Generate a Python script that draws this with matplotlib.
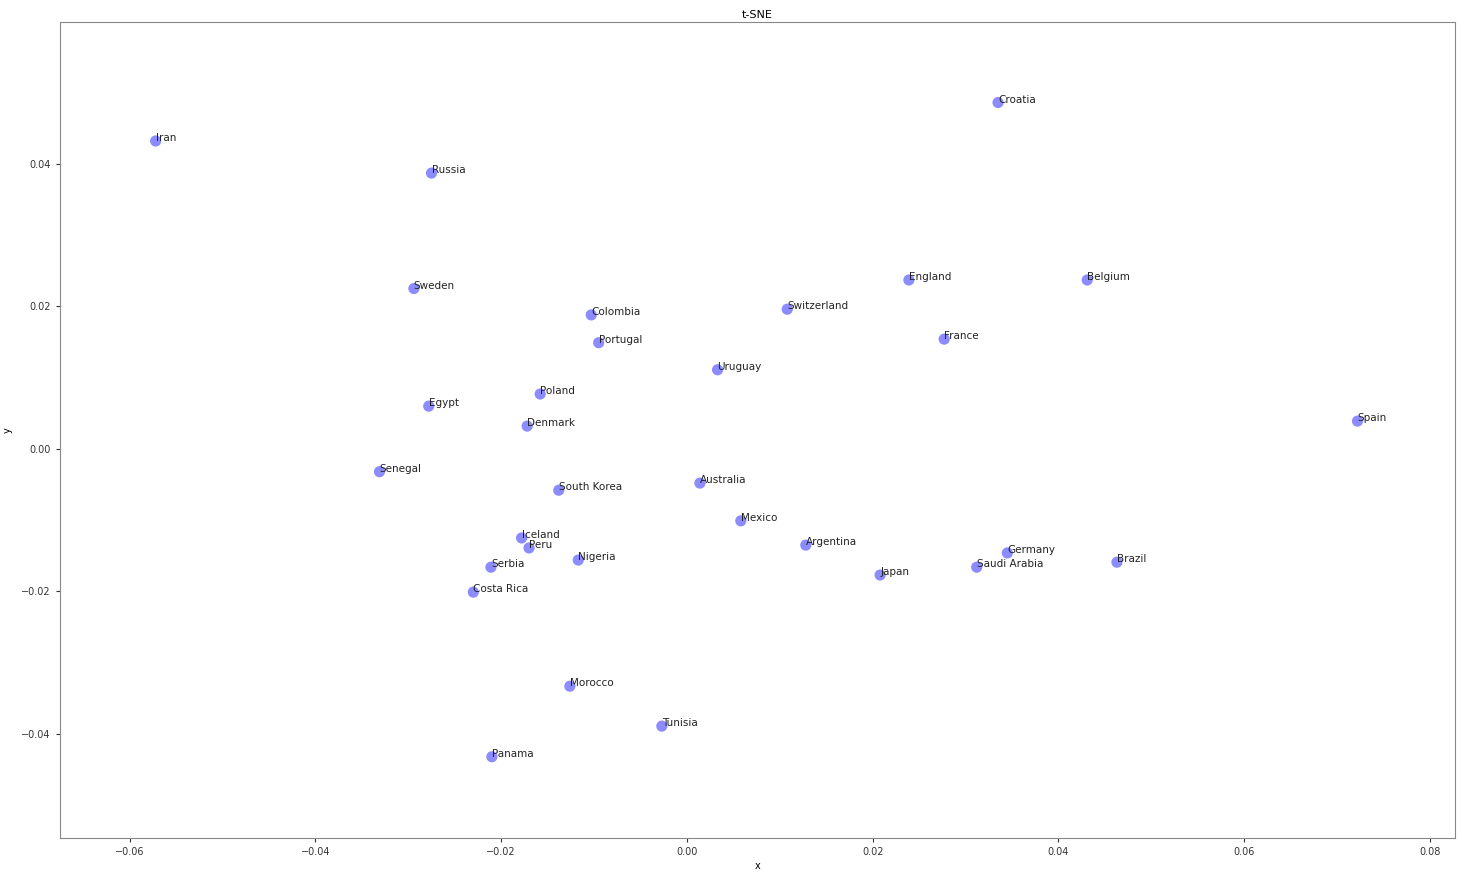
import matplotlib
matplotlib.use("Agg")
import matplotlib.pyplot as plt

# Coordenadas t-SNE por país
paises = ["Iran", "Russia", "Croatia", "Sweden", "England", "Belgium", "Colombia",
          "Switzerland", "Portugal", "France", "Uruguay", "Poland", "Egypt", "Denmark",
          "Spain", "Senegal", "South Korea", "Australia", "Mexico", "Iceland", "Peru",
          "Argentina", "Germany", "Nigeria", "Brazil", "Serbia", "Saudi Arabia", "Japan",
          "Costa Rica", "Morocco", "Tunisia", "Panama"]
x = [-0.0572, -0.0275, 0.0335, -0.0294, 0.0239, 0.0431, -0.0103,
     0.0108, -0.0095, 0.0277, 0.0033, -0.0158, -0.0278, -0.0172,
     0.0722, -0.0331, -0.0138, 0.0014, 0.0058, -0.0178, -0.0170,
     0.0128, 0.0345, -0.0117, 0.0463, -0.0211, 0.0312, 0.0208,
     -0.0230, -0.0126, -0.0027, -0.0210]
y = [0.0432, 0.0387, 0.0486, 0.0225, 0.0237, 0.0237, 0.0188,
     0.0196, 0.0149, 0.0154, 0.0111, 0.0077, 0.0060, 0.0032,
     0.0039, -0.0032, -0.0058, -0.0048, -0.0101, -0.0125, -0.0139,
     -0.0135, -0.0146, -0.0156, -0.0159, -0.0166, -0.0166, -0.0177,
     -0.0201, -0.0333, -0.0389, -0.0432]

fig = plt.figure(figsize=(14.6, 8.75), dpi=100)
ax = fig.add_axes([60 / 1460, 37 / 875, 1395 / 1460, 816 / 875])

ax.scatter(x, y, s=65, color="blue", alpha=0.45, edgecolors="none")
for nombre, xi, yi in zip(paises, x, y):
    ax.annotate(nombre, (xi, yi), fontsize=7.5, color="#222222")

ax.set_xlim(-0.0675, 0.0827)
ax.set_ylim(-0.0546, 0.0599)
ax.set_title("t-SNE", fontsize=8, pad=3)
ax.set_xlabel("x", fontsize=7, labelpad=3)
ax.set_ylabel("y", fontsize=7, labelpad=6)
ax.tick_params(labelsize=7, length=3, colors="#333333")
for sp in ax.spines.values():
    sp.set_color("#888888")

fig.savefig("out.png", dpi=100)
